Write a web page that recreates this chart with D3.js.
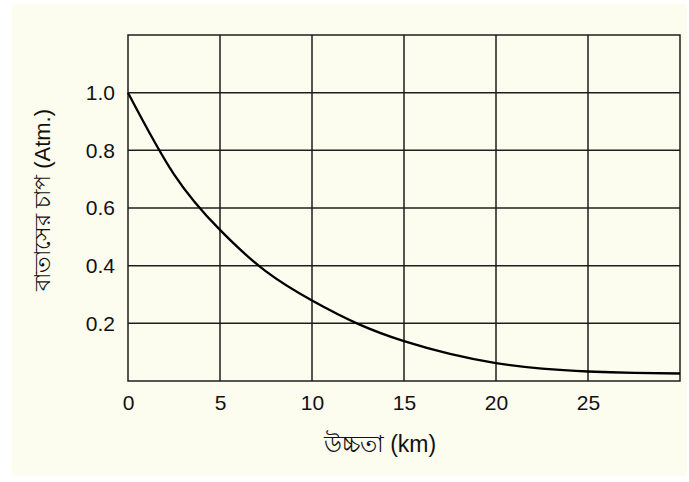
<!DOCTYPE html>
<html>
<head>
<meta charset="utf-8">
<script src="https://cdn.jsdelivr.net/npm/d3@7"></script>
<style>
  html, body { margin: 0; padding: 0; background: #ffffff; }
  svg { display: block; }
</style>
</head>
<body>
<svg id="chart" width="689" height="482"></svg>
<script>
// Air pressure versus altitude
const altitudeKm = [0, 2.5, 5, 7.5, 10, 12.5, 15, 17.5, 20, 22.5, 25, 27.5, 30];
const pressureAtm = [1.0, 0.717, 0.524, 0.380, 0.279, 0.198, 0.138, 0.094, 0.062, 0.043, 0.033, 0.028, 0.026];
const xTicks = [0, 5, 10, 15, 20, 25];
const yTicks = [0.2, 0.4, 0.6, 0.8, 1.0];
const xGrid = [5, 10, 15, 20, 25];
const yGrid = [0.2, 0.4, 0.6, 0.8, 1.0];
const xTitle = "উচ্চতা (km)";
const yTitle = "বাতাসের চাপ (Atm.)";

const svg = d3.select("#chart");
const W = 689, H = 482;
const plot = { left: 128, right: 680, top: 35, bottom: 381 };

// cream panel
svg.append("rect")
  .attr("x", 12).attr("y", 4)
  .attr("width", W - 14).attr("height", H - 10)
  .attr("fill", "#fcfcef");

const x = d3.scaleLinear().domain([0, 30]).range([plot.left, plot.right]);
const y = d3.scaleLinear().domain([0, 1.2]).range([plot.bottom, plot.top]);

const gridColor = "#1e1e1e";

// grid lines
svg.append("g").selectAll("line").data(xGrid).join("line")
  .attr("x1", d => x(d)).attr("x2", d => x(d))
  .attr("y1", plot.top).attr("y2", plot.bottom)
  .attr("stroke", gridColor).attr("stroke-width", 1.5);

svg.append("g").selectAll("line").data(yGrid).join("line")
  .attr("x1", plot.left).attr("x2", plot.right)
  .attr("y1", d => y(d)).attr("y2", d => y(d))
  .attr("stroke", gridColor).attr("stroke-width", 1.5);

// frame
svg.append("rect")
  .attr("x", plot.left).attr("y", plot.top)
  .attr("width", plot.right - plot.left).attr("height", plot.bottom - plot.top)
  .attr("fill", "none").attr("stroke", gridColor).attr("stroke-width", 1.5);

// axes (labels only; lines come from the frame)
const font = "'Liberation Sans', Arial, sans-serif";
const xAxis = svg.append("g")
  .attr("transform", `translate(0,${plot.bottom})`)
  .call(d3.axisBottom(x).tickValues(xTicks).tickSize(0).tickPadding(14).tickFormat(d3.format("d")));
xAxis.select(".domain").remove();
xAxis.selectAll("text").attr("font-family", font).attr("font-size", 21).attr("fill", "#111");

const yAxis = svg.append("g")
  .attr("transform", `translate(${plot.left},0)`)
  .call(d3.axisLeft(y).tickValues(yTicks).tickSize(0).tickPadding(13).tickFormat(d3.format(".1f")));
yAxis.select(".domain").remove();
yAxis.selectAll("text").attr("font-family", font).attr("font-size", 21).attr("fill", "#111");

// pressure curve
const line = d3.line()
  .x((d, i) => x(altitudeKm[i]))
  .y(d => y(d))
  .curve(d3.curveNatural);

svg.append("path")
  .datum(pressureAtm)
  .attr("d", line)
  .attr("fill", "none")
  .attr("stroke", "#000")
  .attr("stroke-width", 2.3);

// axis titles
svg.append("text")
  .attr("x", 380).attr("y", 452)
  .attr("text-anchor", "middle")
  .attr("font-family", font).attr("font-size", 23).attr("fill", "#111")
  .text(xTitle);

svg.append("text")
  .attr("transform", `translate(50,200) rotate(-90)`)
  .attr("text-anchor", "middle")
  .attr("font-family", font).attr("font-size", 22).attr("fill", "#111")
  .text(yTitle);
</script>
</body>
</html>
